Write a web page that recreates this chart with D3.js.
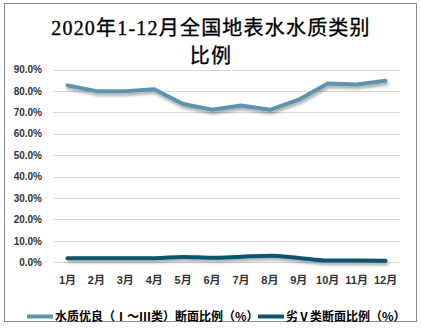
<!DOCTYPE html>
<html><head><meta charset="utf-8">
<script src="https://cdn.jsdelivr.net/npm/d3@7"></script>
<style>
html,body{margin:0;padding:0;background:#fff;}
svg{display:block;}
</style></head>
<body>
<svg id="chart" width="421" height="331"></svg>
<script>
const titleLines = ["2020年1-12月全国地表水水质类别", "比例"];
const months = ["1月","2月","3月","4月","5月","6月","7月","8月","9月","10月","11月","12月"];
const goodRatio = [82.6, 79.9, 79.9, 80.8, 73.9, 71.2, 73.2, 71.2, 75.9, 83.5, 83.0, 84.7];
const worstRatio = [1.9, 1.9, 1.9, 1.9, 2.5, 2.1, 2.6, 3.1, 2.0, 0.8, 0.8, 0.7];
const yTicks = [0,10,20,30,40,50,60,70,80,90];
const seriesNames = ["水质优良（Ⅰ～Ⅲ类）断面比例（%）", "劣Ⅴ类断面比例（%）"];
const colors = ["#5b94ad", "#08546e"];

const svg = d3.select("#chart");
const defs = svg.append("defs");
const f = defs.append("filter").attr("id","sh").attr("x","-10%").attr("y","-50%").attr("width","120%").attr("height","300%");
f.append("feDropShadow").attr("dx",1).attr("dy",2.5).attr("stdDeviation",1.5).attr("flood-color","#000").attr("flood-opacity",0.35);

svg.append("rect").attr("x",4.5).attr("y",3.5).attr("width",412).attr("height",318)
  .attr("fill","#fff").attr("stroke","#8c8c8c").attr("stroke-width",1);

const title = svg.append("text").attr("text-anchor","middle")
  .attr("font-family","'Liberation Serif','Noto Sans CJK SC',serif")
  .attr("font-size",20).attr("fill","#000").attr("letter-spacing",1.2)
  .attr("stroke","#000").attr("stroke-width",0.35);
titleLines.forEach((t,i)=>title.append("tspan").attr("x",211).attr("y",35+i*28).text(t));

const x = d3.scaleBand().domain(months).range([53,400]);
const y = d3.scaleLinear().domain([0,90]).range([262.3,69.5]);

const grid = svg.append("g");
grid.selectAll("line").data(yTicks).join("line")
  .attr("x1",53).attr("x2",400)
  .attr("y1",d=>Math.round(y(d))+0.5).attr("y2",d=>Math.round(y(d))+0.5)
  .attr("stroke","#d9d9d9").attr("stroke-width",1);

const yAxis = svg.append("g").attr("transform","translate(53,0)")
  .call(d3.axisLeft(y).tickValues(yTicks).tickSize(0).tickPadding(11).tickFormat(d=>d.toFixed(1)+"%"));
yAxis.select(".domain").remove();
yAxis.selectAll("text").attr("font-family","'Liberation Sans',Arial,sans-serif").attr("font-weight","bold")
  .attr("font-size",10).attr("fill","#333");

const xAxis = svg.append("g").attr("transform","translate(0,262.3)")
  .call(d3.axisBottom(x).tickSize(0).tickPadding(14));
xAxis.select(".domain").remove();
xAxis.selectAll("text").attr("font-family","'Liberation Sans','Noto Sans CJK SC',sans-serif").attr("font-weight","bold")
  .attr("font-size",11).attr("fill","#333");

const cx = d => x(d) + x.bandwidth()/2;
const lineGood = d3.line().x((d,i)=>cx(months[i])).y(d=>y(d));
const lineWorst = d3.line().x((d,i)=>cx(months[i])).y(d=>y(d)).curve(d3.curveMonotoneX);

svg.append("path").datum(goodRatio).attr("d",lineGood).attr("fill","none")
  .attr("stroke",colors[0]).attr("stroke-width",4).attr("stroke-linecap","round").attr("stroke-linejoin","round").attr("filter","url(#sh)");
svg.append("path").datum(worstRatio).attr("d",lineWorst).attr("fill","none")
  .attr("stroke",colors[1]).attr("stroke-width",4).attr("stroke-linecap","round").attr("stroke-linejoin","round").attr("filter","url(#sh)");

const legend = svg.append("g");
const lx = [27, 258];
seriesNames.forEach((n,i)=>{
  legend.append("line").attr("x1",lx[i]).attr("x2",lx[i]+26).attr("y1",316.5).attr("y2",316.5)
    .attr("stroke",colors[i]).attr("stroke-width",4);
  legend.append("text").attr("x",lx[i]+28).attr("y",321)
    .attr("font-family","'Noto Sans CJK SC',sans-serif").attr("font-weight","bold").attr("font-size",12)
    .attr("fill","#000").text(n);
});
</script>
</body></html>
